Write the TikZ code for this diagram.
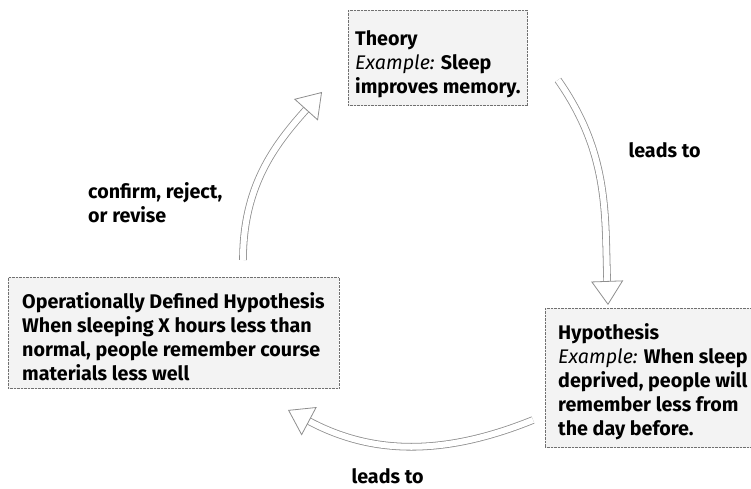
\documentclass[tikz,border=0pt]{standalone}
\usepackage{fontspec}
\setmainfont{Fira Sans}
\usetikzlibrary{arrows.meta,positioning}
\definecolor{CycleLine}{HTML}{8E8E8E}
\definecolor{CycleBack}{HTML}{F3F3F3}
\definecolor{CycleBorder}{HTML}{707070}
\tikzset{every node/.style={font=\fontsize{19.7}{24}\selectfont\bfseries},
 stagebox/.style={draw=CycleBorder,densely dotted,fill=CycleBack,align=left,
 anchor=north west,inner xsep=#1,inner ysep=8pt},
 stagebox/.default=8pt,
 cyclearrow/.style={draw=CycleLine,line width=0.8pt,double=white,double distance=6pt,
 -{Triangle[open,length=24pt,width=32pt]}}}

\begin{document}
\begin{tikzpicture}[x=1pt,y=1pt]
\useasboundingbox (0,0) rectangle (751,489);
\node[stagebox=7pt,text height=75pt] (theory) at (348,479)
 {Theory\\\textnormal{\itshape Example:} Sleep\\improves memory.};
\node[stagebox=13pt,text height=119pt] (hypo) at (545,181)
 {Hypothesis\\\textnormal{\itshape Example:} When sleep\\deprived, people will\\remember less from\\the day before.};
\node[stagebox=14pt,text height=95pt] (opdef) at (8,212)
 {Operationally Defined Hypothesis\\When sleeping X hours less than\\normal, people remember course\\materials less well};
\coordinate (a1s) at (558,409);
\coordinate (a1e) at (608,184);
\coordinate (a2s) at (533,69);
\coordinate (a2e) at (288,79);
\coordinate (a3s) at (243,229);
\coordinate (a3e) at (322,397);
\draw[cyclearrow] (a1s) to[out=-55,in=92] (a1e);
\draw[cyclearrow] (a2s) to[out=-158,in=-28] (a2e);
\draw[cyclearrow] (a3s) to[out=90,in=-132] (a3e);
\node[anchor=base west] (lead1) at (625,331) {leads to};
\node[anchor=base west] (lead2) at (348,5) {leads to};
\node[anchor=north west,inner sep=0pt,align=left] (revise) at (88,307) {confirm, reject,\\or revise};
\end{tikzpicture}
\end{document}
